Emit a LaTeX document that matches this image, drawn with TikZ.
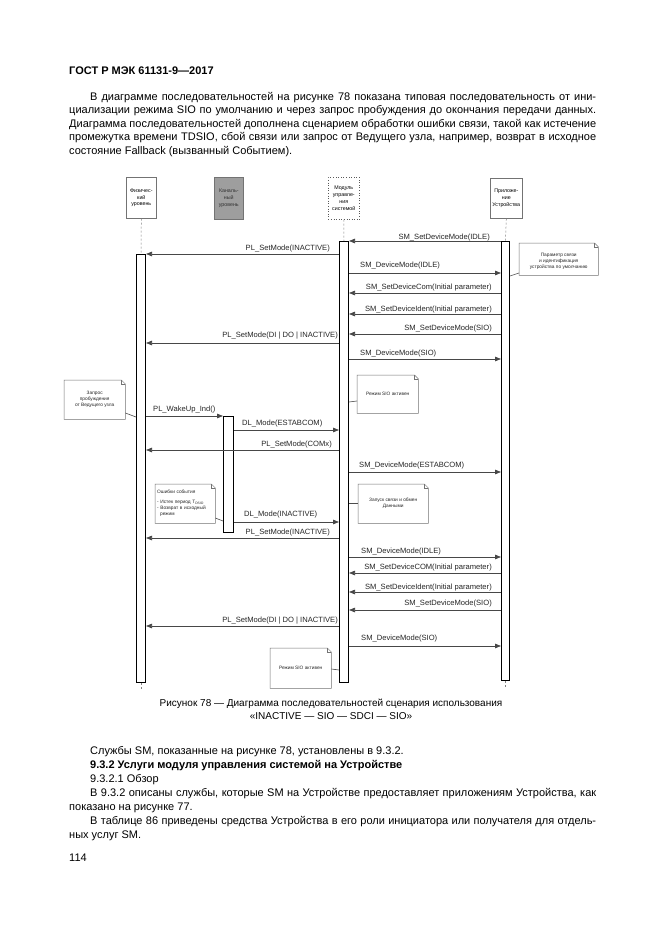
\documentclass[tikz,border=0pt]{standalone}
\usepackage{fontspec}
\setmainfont{Liberation Sans}
\usetikzlibrary{arrows.meta,calc}
\newcommand\foldnote[1]{%
  \draw[noteline] (#1.north west) -- ([xshift=-4pt]#1.north east) -- ([yshift=-4pt]#1.north east) -- (#1.south east) -- (#1.south west) -- cycle;
  \draw[noteline] ([xshift=-4pt]#1.north east) |- ([yshift=-4pt]#1.north east);}
\begin{document}
\begin{tikzpicture}[x=1pt,y=-1pt,
  body/.style={font=\fontsize{11}{13}\selectfont, inner sep=0pt, anchor=base west},
  lbl/.style={font=\fontsize{7.6}{8}\selectfont, inner sep=0pt, text=black!85},
  head/.style={draw=black!55, line width=0.6pt, inner sep=0pt, font=\fontsize{5.3}{6.8}\selectfont, align=center, anchor=north west},
  bar/.style={draw=black, line width=1pt, fill=white, inner sep=0pt, anchor=north west},
  msg/.style={draw=black!72, line width=0.75pt, -{Triangle[length=6pt,width=4.5pt]}},
  notebox/.style={inner sep=0pt, anchor=north west, align=center, font=\fontsize{4.8}{6}\selectfont, text=black!85},
  noteline/.style={draw=black!55, line width=0.5pt},
  link/.style={draw=black!70, line width=0.6pt},
  life/.style={draw=black!50, line width=0.5pt, dash pattern=on 2pt off 2pt}
]
\useasboundingbox[fill=white] (0,0) rectangle (661,935);

% ---- page text (top)
\node[body] (t0) at (69,74) {\bfseries ГОСТ Р МЭК 61131-9—2017};
\node[body] (t1) at (90,100) {\makebox[506pt][s]{В диаграмме последовательностей на рисунке 78 показана типовая последовательность от ини-}};
\node[body] (t2) at (69,113.5) {\makebox[527pt][s]{циализации режима SIO по умолчанию и через запрос пробуждения до окончания передачи данных.}};
\node[body] (t3) at (69,127) {\makebox[527pt][s]{Диаграмма последовательностей дополнена сценарием обработки ошибки связи, такой как истечение}};
\node[body] (t4) at (69,140.5) {\makebox[527pt][s]{промежутка времени TDSIO, сбой связи или запрос от Ведущего узла, например, возврат в исходное}};
\node[body] (t5) at (69,154) {состояние Fallback (вызванный Событием).};

% ---- participants
\node[head, minimum width=30pt, minimum height=41pt] (phH) at (126,177) {Физичес-\\кий\\уровень};
\node[head, minimum width=29pt, minimum height=42pt, fill=black!38, text=black!80] (chH) at (214,177) {Каналь-\\ный\\уровень};
\node[head, minimum width=31pt, minimum height=42pt, dotted, draw=black!65] (smH) at (328,177) {Модуль\\управле-\\ния\\системой};
\node[head, minimum width=32pt, minimum height=40pt] (apH) at (490,178) {Приложе-\\ние\\Устройства};

% ---- activation bars
\node[bar, minimum width=9pt, minimum height=428pt] (phB) at (136,254) {};
\node[bar, minimum width=10pt, minimum height=116pt] (chB) at (223,416) {};
\node[bar, minimum width=9pt, minimum height=441pt] (smB) at (339,241) {};
\node[bar, minimum width=8pt, minimum height=439pt] (apB) at (501,241) {};

% ---- lifelines
\draw[life] (phH.south) -- (phB.north);
\draw[life] (smH.south) -- (smB.north);
\draw[life] (apH.south) -- (apB.north);
\draw[life] (phB.south) -- ++(0,6);
\draw[life] (apB.south) -- ++(0,6);

% ---- messages
\draw[msg] (apB.west |- 0,241) -- (smB.east |- 0,241);
\node[lbl, anchor=base east] (m1) at (490,239.5) {SM\_SetDeviceMode(IDLE)};
\draw[msg] (smB.west |- 0,254) -- (phB.east |- 0,254);
\node[lbl, anchor=base east] (m2) at (330,250.5) {PL\_SetMode(INACTIVE)};
\draw[msg] (smB.east |- 0,273) -- (apB.west |- 0,273);
\node[lbl, anchor=base west] (m3) at (360,267.5) {SM\_DeviceMode(IDLE)};
\draw[msg] (apB.west |- 0,293) -- (smB.east |- 0,293);
\node[lbl, anchor=base east] (m4) at (492,289.5) {SM\_SetDeviceCom(Initial parameter)};
\draw[msg] (apB.west |- 0,314) -- (smB.east |- 0,314);
\node[lbl, anchor=base east] (m5) at (492,311.5) {SM\_SetDeviceIdent(Initial parameter)};
\draw[msg] (apB.west |- 0,334) -- (smB.east |- 0,334);
\node[lbl, anchor=base east] (m6) at (492,330.5) {SM\_SetDeviceMode(SIO)};
\draw[msg] (smB.west |- 0,343) -- (phB.east |- 0,343);
\node[lbl, anchor=base east] (m7) at (338,337.5) {PL\_SetMode(DI | DO | INACTIVE)};
\draw[msg] (smB.east |- 0,359) -- (apB.west |- 0,359);
\node[lbl, anchor=base west] (m8) at (360,355.5) {SM\_DeviceMode(SIO)};

\draw[msg] (phB.east |- 0,416) -- (chB.west |- 0,416);
\node[lbl, anchor=base west] (m11) at (153,411.5) {PL\_WakeUp\_Ind()};
\draw[msg] (chB.east |- 0,430) -- (smB.west |- 0,430);
\node[lbl, anchor=base west] (m12) at (242,425.5) {DL\_Mode(ESTABCOM)};
\draw[msg] (smB.west |- 0,450) -- (phB.east |- 0,450);
\node[lbl, anchor=base east] (m13) at (332,446.5) {PL\_SetMode(COMx)};
\draw[msg] (smB.east |- 0,472) -- (apB.west |- 0,472);
\node[lbl, anchor=base west] (m14) at (359,467.5) {SM\_DeviceMode(ESTABCOM)};

\draw[msg] (chB.east |- 0,522) -- (smB.west |- 0,522);
\node[lbl, anchor=base west] (m17) at (244,516.5) {DL\_Mode(INACTIVE)};
\draw[msg] (smB.west |- 0,538) -- (phB.east |- 0,538);
\node[lbl, anchor=base east] (m18) at (330,534.5) {PL\_SetMode(INACTIVE)};
\draw[msg] (smB.east |- 0,557) -- (apB.west |- 0,557);
\node[lbl, anchor=base west] (m19) at (361,553.5) {SM\_DeviceMode(IDLE)};
\draw[msg] (apB.west |- 0,573) -- (smB.east |- 0,573);
\node[lbl, anchor=base east] (m20) at (492,569.5) {SM\_SetDeviceCOM(Initial parameter)};
\draw[msg] (apB.west |- 0,592) -- (smB.east |- 0,592);
\node[lbl, anchor=base east] (m21) at (492,589.5) {SM\_SetDeviceIdent(Initial parameter)};
\draw[msg] (apB.west |- 0,610) -- (smB.east |- 0,610);
\node[lbl, anchor=base east] (m22) at (492,605.5) {SM\_SetDeviceMode(SIO)};
\draw[msg] (smB.west |- 0,626) -- (phB.east |- 0,626);
\node[lbl, anchor=base east] (m23) at (338,622.5) {PL\_SetMode(DI | DO | INACTIVE)};
\draw[msg] (smB.east |- 0,646) -- (apB.west |- 0,646);
\node[lbl, anchor=base west] (m24) at (361,640.5) {SM\_DeviceMode(SIO)};

% ---- notes
\node[notebox, minimum width=79pt, minimum height=32pt] (n26) at (519,243) {\\[1pt]Параметр связи\\и идентификация\\устройства по умолчанию};
\foldnote{n26}
\draw[link] (apB.east |- 0,276) -- (n26.west |- 0,273);

\node[notebox, minimum width=61pt, minimum height=38pt] (n9) at (357,375) {Режим SIO активен};
\foldnote{n9}
\draw[link] (smB.east |- 0,402) -- (n9.west |- 0,401);

\node[notebox, minimum width=61pt, minimum height=39pt] (n10) at (64,380) {Запрос\\пробуждения\\от Ведущего узла};
\foldnote{n10}
\draw[link] (n10.east |- 0,413) -- (phB.west |- 0,417);

\node[notebox, minimum width=60pt, minimum height=39pt, align=left, text width=56pt] (n15) at (155,484) {Ошибки события\\[4pt]- Истек период T\textsubscript{DSIO}\\- Возврат в исходный\\\hspace*{3pt}режим};
\foldnote{n15}
\draw[link] (n15.east |- 0,518) -- (chB.west |- 0,521);

\node[notebox, minimum width=70pt, minimum height=39pt] (n16) at (358,484) {Запуск связи и обмен\\Данными};
\foldnote{n16}
\draw[link] (smB.east |- 0,503) -- (n16.west |- 0,503);

\node[notebox, minimum width=61pt, minimum height=40pt] (n25) at (270,648) {Режим SIO активен};
\foldnote{n25}
\draw[link] (n25.east |- 0,669) -- (smB.west |- 0,670);

% ---- caption
\node[font=\fontsize{10}{12.8}\selectfont, align=center, inner sep=0pt] (cap) at (331,709.5) {Рисунок 78 — Диаграмма последовательностей сценария использования\\«INACTIVE — SIO — SDCI — SIO»};

% ---- page text (bottom)
\node[body] (b1) at (90,754) {Службы SM, показанные на рисунке 78, установлены в 9.3.2.};
\node[body] (b2) at (90,768) {\bfseries 9.3.2 Услуги модуля управления системой на Устройстве};
\node[body] (b3) at (90,782) {9.3.2.1 Обзор};
\node[body] (b4) at (90,796) {\makebox[506pt][s]{В 9.3.2 описаны службы, которые SM на Устройстве предоставляет приложениям Устройства, как}};
\node[body] (b5) at (69,810) {показано на рисунке 77.};
\node[body] (b6) at (90,824) {\makebox[506pt][s]{В таблице 86 приведены средства Устройства в его роли инициатора или получателя для отдель-}};
\node[body] (b7) at (69,838) {ных услуг SM.};
\node[body] (b8) at (69,861) {114};
\end{tikzpicture}
\end{document}
